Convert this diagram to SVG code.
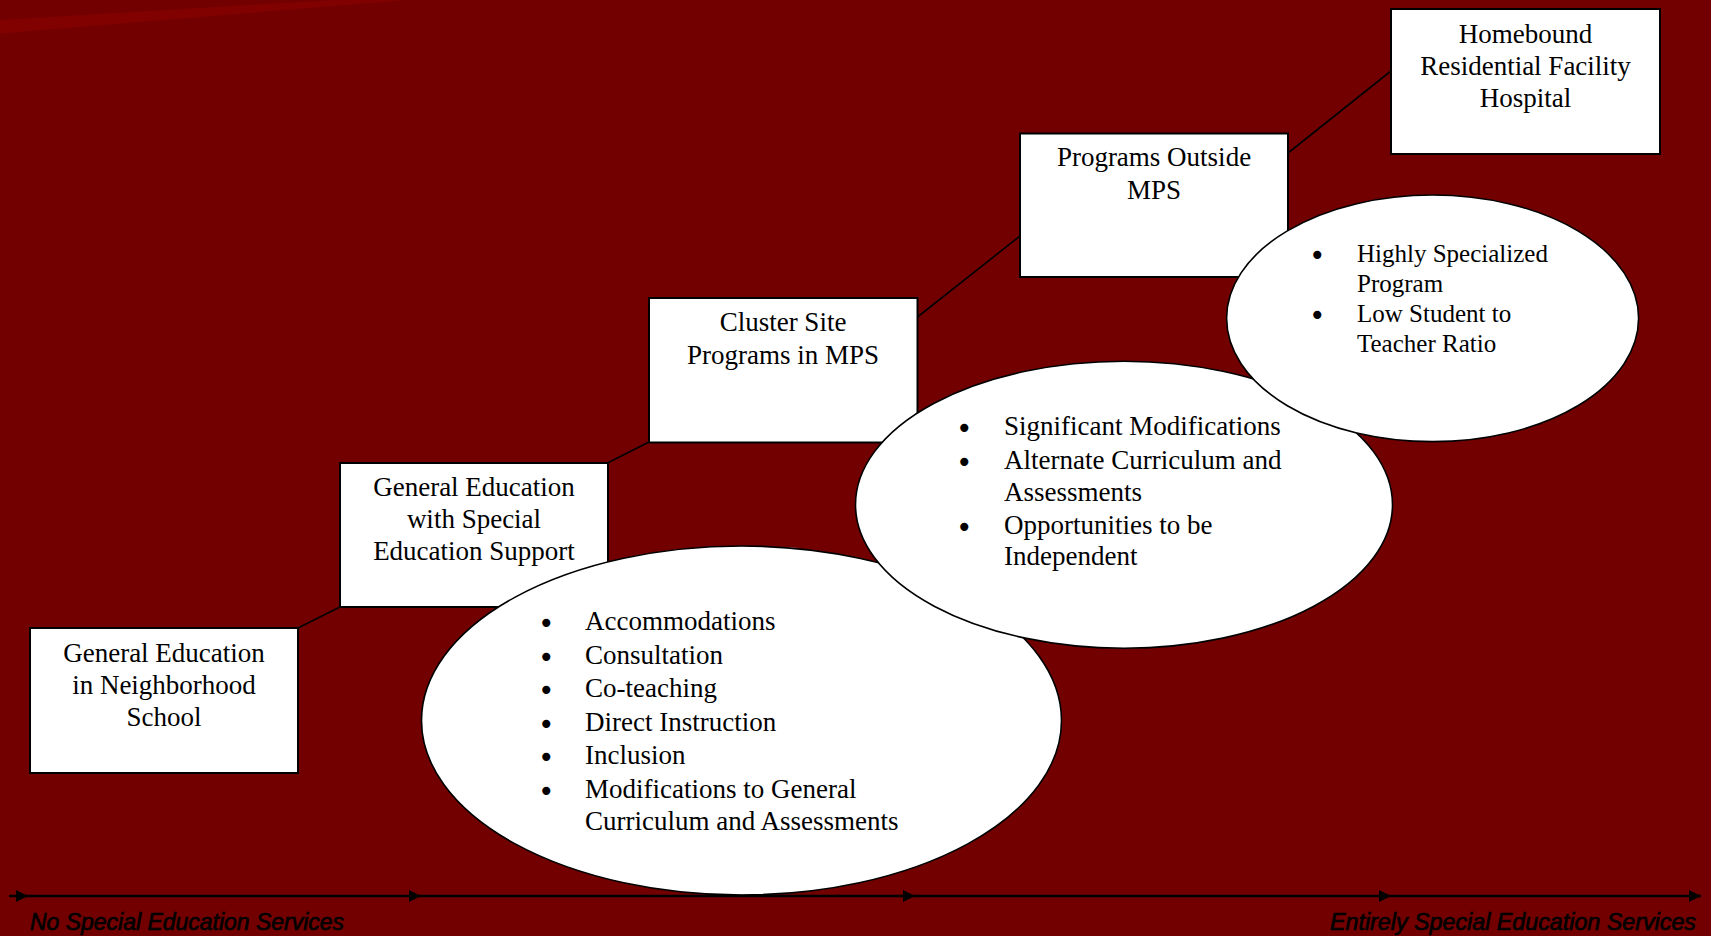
<svg xmlns="http://www.w3.org/2000/svg" width="1711" height="936" viewBox="0 0 1711 936">
<defs>
<style>
.box{fill:#fff;stroke:#000;stroke-width:2}
.ell{fill:#fff;stroke:#000;stroke-width:1.6}
.t{font-family:"Liberation Serif","Times New Roman",serif;font-size:27px;fill:#000}
.tc{text-anchor:middle}
.s{font-size:25px}
.b{font-family:"DejaVu Sans",sans-serif;font-size:28px;fill:#000}
.con{stroke:#000;stroke-width:1.6;fill:none}
.ax{stroke:#000;stroke-width:2.5;fill:none;marker-end:url(#ah)}
.lab{font-family:"Liberation Sans",Arial,sans-serif;font-style:italic;font-size:23.2px;fill:#000;stroke:#000;stroke-width:0.7}
</style>
<marker id="ah" viewBox="0 0 12 12" refX="12" refY="6" markerWidth="12" markerHeight="12" markerUnits="userSpaceOnUse" orient="auto">
<path d="M0,0 L12,6 L0,12 Z" fill="#000"/>
</marker>
</defs>
<rect x="0" y="0" width="1711" height="936" fill="#720000"/>
<polygon points="0,20 333,0 407,0 0,33.5" fill="#810000"/>

<g id="connectors">
<line class="con" x1="298" y1="628" x2="340" y2="607"/>
<line class="con" x1="607.5" y1="463" x2="649" y2="442"/>
<line class="con" x1="917.5" y1="317" x2="1020" y2="236"/>
<line class="con" x1="1288" y1="153" x2="1391" y2="71"/>
</g>

<g id="box1">
<rect class="box" x="30" y="628" width="268" height="145"/>
<text class="t tc" x="164" y="661.5">General Education</text>
<text class="t tc" x="164" y="693.5">in Neighborhood</text>
<text class="t tc" x="164" y="725.5">School</text>
</g>
<g id="box2">
<rect class="box" x="340" y="463" width="268" height="144"/>
<text class="t tc" x="474" y="495.5">General Education</text>
<text class="t tc" x="474" y="527.5">with Special</text>
<text class="t tc" x="474" y="559.5">Education Support</text>
</g>
<g id="box3">
<rect class="box" x="649" y="298" width="268.5" height="144.5"/>
<text class="t tc" x="783" y="330.5">Cluster Site</text>
<text class="t tc" x="783" y="363.5">Programs in MPS</text>
</g>
<g id="box4">
<rect class="box" x="1020" y="133.5" width="268" height="143.5"/>
<text class="t tc" x="1154" y="166">Programs Outside</text>
<text class="t tc" x="1154" y="198.5">MPS</text>
</g>
<g id="box5">
<rect class="box" x="1391" y="9" width="269" height="145"/>
<text class="t tc" x="1525.5" y="42.5">Homebound</text>
<text class="t tc" x="1525.5" y="75">Residential Facility</text>
<text class="t tc" x="1525.5" y="107">Hospital</text>
</g>

<g id="ellipse1">
<ellipse class="ell" cx="741.5" cy="720.5" rx="320" ry="174.5"/>
<text class="b"><tspan x="538" y="633">•</tspan><tspan x="538" y="666.5">•</tspan><tspan x="538" y="700">•</tspan><tspan x="538" y="733.5">•</tspan><tspan x="538" y="767">•</tspan><tspan x="538" y="800.5">•</tspan></text>
<text class="t" x="585" y="630">Accommodations</text>
<text class="t" x="585" y="663.5">Consultation</text>
<text class="t" x="585" y="697">Co-teaching</text>
<text class="t" x="585" y="730.5">Direct Instruction</text>
<text class="t" x="585" y="764">Inclusion</text>
<text class="t" x="585" y="797.5">Modifications to General</text>
<text class="t" x="585" y="829.5">Curriculum and Assessments</text>
</g>
<g id="ellipse2">
<ellipse class="ell" cx="1124" cy="504.7" rx="268.5" ry="143.5"/>
<text class="b"><tspan x="956" y="438">•</tspan><tspan x="956" y="472">•</tspan><tspan x="956" y="536.5">•</tspan></text>
<text class="t" x="1004" y="435">Significant Modifications</text>
<text class="t" x="1004" y="469">Alternate Curriculum and</text>
<text class="t" x="1004" y="500.5">Assessments</text>
<text class="t" x="1004" y="533.5">Opportunities to be</text>
<text class="t" x="1004" y="565">Independent</text>
</g>
<g id="ellipse3">
<ellipse class="ell" cx="1432.6" cy="318.3" rx="206" ry="123.3"/>
<text class="b"><tspan x="1309" y="265">•</tspan><tspan x="1309" y="325">•</tspan></text>
<text class="t s" x="1357" y="262">Highly Specialized</text>
<text class="t s" x="1357" y="292">Program</text>
<text class="t s" x="1357" y="322">Low Student to</text>
<text class="t s" x="1357" y="352">Teacher Ratio</text>
</g>

<g id="axis">
<line class="ax" x1="9" y1="896" x2="28" y2="896"/>
<line class="ax" x1="28" y1="896" x2="421" y2="896"/>
<line class="ax" x1="421" y1="896" x2="915" y2="896"/>
<line class="ax" x1="915" y1="896" x2="1391" y2="896"/>
<line class="ax" x1="1391" y1="896" x2="1701" y2="896"/>
<text class="lab" x="30" y="930" textLength="314" lengthAdjust="spacingAndGlyphs">No Special Education Services</text>
<text class="lab" x="1330" y="930" textLength="366" lengthAdjust="spacingAndGlyphs">Entirely Special Education Services</text>
</g>
</svg>
